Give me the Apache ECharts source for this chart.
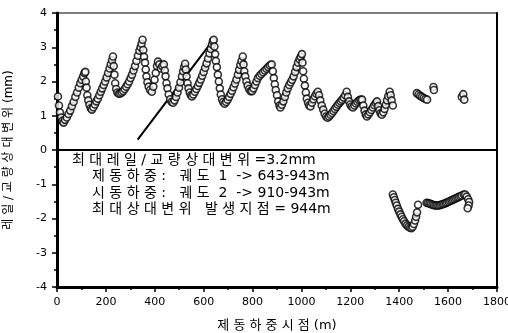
<!DOCTYPE html>
<html>
<head>
<meta charset="utf-8">
<script src="https://cdn.jsdelivr.net/npm/echarts@6/dist/echarts.min.js"></script>
<style>
  html, body { margin: 0; padding: 0; background: #fff; }
  #chart { width: 508px; height: 333px; }
</style>
</head>
<body>
<div id="chart"></div>
<script>
// 상부 점 (relative displacement > 0)
var upperDist = [4, 8, 12, 17, 22, 27,
  33, 40, 47, 54, 61, 68, 75, 82, 89, 95, 101, 107, 112, 116,
  118, 121, 124, 128, 133, 138, 143,
  149, 155, 161, 167, 173, 179, 185, 191, 197, 203, 209, 215, 220, 225, 229,
  232, 235, 238, 242, 247, 253, 259, 265,
  271, 277, 283, 289, 295, 301, 307, 313, 319, 325, 331, 337, 342, 346, 350,
  353, 356, 360, 363, 366, 370, 375, 381, 388,
  394, 399, 404, 409, 413, 419, 425, 431, 437, 441, 444, 448, 452, 457, 463, 469, 475,
  481, 487, 493, 499, 505, 511, 516, 520, 524,
  527, 530, 534, 538, 543, 548, 552,
  558, 564, 570, 576, 582, 588, 594, 600, 606, 612, 618, 624, 629, 634, 638, 641,
  644, 647, 650, 654, 658, 662, 666, 670, 675, 680, 686,
  692, 698, 704, 710, 716, 722, 728, 734, 740, 745, 750, 755, 760,
  763, 766, 770, 775, 780, 786, 792, 798,
  804, 810, 816, 822, 829, 836, 843, 850, 857, 864, 871, 878,
  883, 887, 891, 895, 900, 905, 910, 914,
  920, 926, 932, 938, 944, 950, 956, 962, 968, 974, 980, 986, 992, 997, 1002,
  1004, 1007, 1010, 1014, 1018, 1022, 1027, 1032, 1037,
  1043, 1049, 1055, 1061, 1067, 1072, 1077, 1083, 1089, 1095, 1101, 1107,
  1113, 1119, 1125, 1131, 1137, 1143, 1149, 1155, 1161, 1167, 1173, 1179, 1185,
  1190, 1195, 1200, 1205, 1211,
  1217, 1223, 1229, 1236, 1242, 1248,
  1253, 1258, 1263, 1268,
  1274, 1280, 1286, 1292, 1298, 1304, 1309,
  1314, 1319, 1324, 1329,
  1335, 1340, 1345, 1350, 1355, 1361,
  1365, 1369, 1374];
var upperDisp = [1.56, 1.3, 1.1, 0.95, 0.85, 0.8,
  0.88, 0.95, 1.05, 1.15, 1.28, 1.4, 1.55, 1.68, 1.82, 1.95, 2.05, 2.15, 2.25, 2.28,
  2.0, 1.82, 1.6, 1.45, 1.32, 1.22, 1.18,
  1.25, 1.33, 1.42, 1.5, 1.6, 1.7, 1.8, 1.9, 2.0, 2.12, 2.25, 2.38, 2.5, 2.62, 2.73,
  2.45, 2.2, 1.95, 1.78, 1.68, 1.64, 1.65, 1.68,
  1.72, 1.78, 1.85, 1.92, 2.0, 2.1, 2.2, 2.32, 2.45, 2.6, 2.75, 2.9, 3.0, 3.1, 3.22,
  2.92, 2.72, 2.55, 2.35, 2.15, 1.98, 1.85, 1.75, 1.7,
  1.85, 2.05, 2.25, 2.45, 2.58, 2.5, 2.38, 2.45, 2.5, 2.32, 2.15, 1.95, 1.8, 1.62, 1.48, 1.4, 1.38,
  1.45, 1.55, 1.68, 1.82, 1.98, 2.15, 2.3, 2.42, 2.52,
  2.35, 2.15, 1.95, 1.8, 1.68, 1.6, 1.56,
  1.62, 1.7, 1.78, 1.87, 1.96, 2.06, 2.17, 2.28, 2.4, 2.53, 2.67, 2.82, 2.95, 3.08, 3.18, 3.22,
  3.02, 2.8, 2.6, 2.42, 2.2, 2.0, 1.8, 1.62, 1.48, 1.4, 1.35,
  1.4, 1.47, 1.55, 1.64, 1.73, 1.83, 1.94, 2.06, 2.2, 2.34, 2.48, 2.6, 2.73,
  2.5, 2.3, 2.15, 2.0, 1.88, 1.78, 1.72, 1.72,
  1.8, 1.9, 2.0, 2.1, 2.17, 2.22, 2.27, 2.32, 2.37, 2.42, 2.47, 2.5,
  2.3, 2.1, 1.92, 1.75, 1.6, 1.42, 1.3, 1.24,
  1.32, 1.42, 1.55, 1.68, 1.8, 1.9, 1.98, 2.05, 2.15, 2.28, 2.42, 2.55, 2.65, 2.72, 2.8,
  2.55, 2.3, 2.08, 1.88, 1.68, 1.5, 1.38, 1.3, 1.27,
  1.38, 1.48, 1.57, 1.64, 1.7, 1.6, 1.45, 1.3, 1.18, 1.06, 0.98, 0.94,
  0.98, 1.03, 1.08, 1.14, 1.2, 1.26, 1.32, 1.37, 1.42, 1.47, 1.53, 1.6, 1.7,
  1.55, 1.42, 1.33, 1.27, 1.24,
  1.3, 1.36, 1.41, 1.45, 1.47, 1.47,
  1.3, 1.15, 1.04, 0.98,
  1.04, 1.1, 1.17, 1.24, 1.31, 1.37, 1.42,
  1.28, 1.16, 1.07, 1.03,
  1.1, 1.2, 1.32, 1.45, 1.57, 1.7,
  1.6, 1.45, 1.3];

// 떨어진 상부 점
var islandDist = [1472, 1479, 1486, 1493, 1500, 1507, 1514, 1540, 1542, 1656, 1662, 1666];
var islandDisp = [1.66, 1.62, 1.58, 1.55, 1.52, 1.49, 1.47, 1.84, 1.75, 1.55, 1.63, 1.47];

// 하부 점 (relative displacement < 0)
var lowerDist = [1374, 1378, 1382, 1386, 1390, 1395, 1400, 1405, 1410, 1415, 1420, 1426, 1432, 1438, 1444, 1450,
  1455, 1460, 1465, 1469, 1473, 1477,
  1512, 1518, 1524, 1530, 1536, 1542, 1548, 1554, 1560, 1566, 1572, 1578, 1584, 1590, 1596,
  1602, 1608, 1614, 1620, 1626, 1632, 1638, 1644, 1650, 1656, 1664, 1670, 1676, 1682, 1686, 1684, 1680];
var lowerDisp = [-1.3, -1.38, -1.46, -1.54, -1.62, -1.72, -1.8, -1.88, -1.95, -2.02, -2.08, -2.15, -2.2, -2.24, -2.27, -2.28,
  -2.24, -2.16, -2.06, -1.95, -1.82, -1.6,
  -1.54, -1.55, -1.56, -1.58, -1.6, -1.61, -1.62, -1.62, -1.62, -1.61, -1.6, -1.58, -1.57, -1.55, -1.53,
  -1.51, -1.49, -1.47, -1.45, -1.43, -1.41, -1.39, -1.37, -1.35, -1.33, -1.3, -1.3, -1.36, -1.44, -1.52, -1.62, -1.7];

// 최대 상대변위를 가리키는 선
var pointerDist = [330, 640];
var pointerDisp = [0.3, 3.22];

var xTicks = [0, 1800, 200];
var yTicks = [-4, 4, 1];

var noteLines = [
  '최 대 레 일 / 교 량 상 대 변 위 =3.2mm',
  '제 동 하 중 :   궤 도  1  -> 643-943m',
  '시 동 하 중 :   궤 도  2  -> 910-943m',
  '최 대 상 대 변 위   발 생 지 점 = 944m'
];

function zip (a, b) {
  var out = []
  for (var i = 0; i < a.length; i++) out.push([a[i], b[i]])
  return out
}

var font = '"DejaVu Sans", "Noto Sans CJK KR", sans-serif'
var markStyle = { color: '#fff', borderColor: '#000', borderWidth: 1.6 }

var chart = echarts.init(document.getElementById('chart'))
var option = {
  animation: false,
  backgroundColor: '#fff',
  grid: {
    left: 57, right: 11, top: 13, bottom: 46,
    containLabel: false,
    outerBoundsMode: 'none',
    show: true, borderColor: '#000', borderWidth: 1
  },
  xAxis: {
    type: 'value',
    min: xTicks[0], max: xTicks[1], interval: xTicks[2],
    name: '제 동 하 중 시 점 (m)',
    nameLocation: 'middle',
    nameGap: 32,
    nameTextStyle: { color: '#000', fontSize: 13, fontFamily: font },
    axisLine: { onZero: false, lineStyle: { color: '#000', width: 3 } },
    axisTick: { length: 5, lineStyle: { color: '#000', width: 1.5 } },
    minorTick: { show: true, splitNumber: 2, length: 3, lineStyle: { color: '#000', width: 1.5 } },
    splitLine: { show: false },
    axisLabel: { color: '#000', fontSize: 11, margin: 10, fontFamily: font, formatter: function (v) { return String(v) } }
  },
  yAxis: [{
    type: 'value',
    min: yTicks[0], max: yTicks[1], interval: yTicks[2],
    name: '레 일 / 교 량 상 대 변 위 (mm)',
    nameLocation: 'middle',
    nameGap: 42,
    nameTextStyle: { color: '#000', fontSize: 12, fontFamily: font },
    axisLine: { show: true, lineStyle: { color: '#000', width: 3 } },
    axisTick: { length: 5, lineStyle: { color: '#000', width: 1.5 } },
    minorTick: { show: true, splitNumber: 2, length: 3, lineStyle: { color: '#000', width: 1.5 } },
    splitLine: { show: false },
    axisLabel: { color: '#000', fontSize: 11, margin: 10, fontFamily: font }
  }, {
    type: 'value',
    position: 'right',
    min: yTicks[0], max: yTicks[1], interval: yTicks[2],
    axisLine: { show: true, lineStyle: { color: '#000', width: 2 } },
    axisTick: { show: false },
    axisLabel: { show: false },
    splitLine: { show: false }
  }],
  series: [
    {
      type: 'line',
      data: zip(pointerDist, pointerDisp),
      showSymbol: false,
      lineStyle: { color: '#000', width: 2 },
      z: 1,
      markLine: {
        silent: true,
        symbol: 'none',
        label: { show: false },
        lineStyle: { color: '#000', width: 2, type: 'solid' },
        data: [{ yAxis: 0 }]
      }
    },
    {
      type: 'scatter',
      data: zip(upperDist, upperDisp),
      symbol: 'circle',
      symbolSize: 7,
      itemStyle: markStyle,
      z: 3
    },
    {
      type: 'scatter',
      data: zip(islandDist, islandDisp),
      symbol: 'circle',
      symbolSize: 7,
      itemStyle: markStyle,
      z: 3
    },
    {
      type: 'scatter',
      data: zip(lowerDist, lowerDisp),
      symbol: 'circle',
      symbolSize: 7,
      itemStyle: markStyle,
      z: 3
    }
  ],
  graphic: noteLines.map(function (t, i) {
    return {
      type: 'text',
      left: i === 0 ? 72 : 92,
      top: 153 + i * 16.5,
      style: { text: t, fill: '#000', fontSize: 14, fontFamily: font }
    }
  })
}
chart.setOption(option)
</script>
</body>
</html>
